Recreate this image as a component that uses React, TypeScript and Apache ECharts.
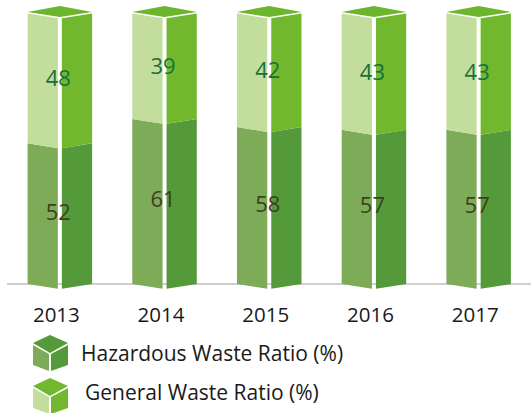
import React, { useEffect, useRef } from 'react';
import * as echarts from 'echarts';

const years = ['2013', '2014', '2015', '2016', '2017'];
const hazardous = [52, 61, 58, 57, 57];
const general = [48, 39, 42, 43, 43];
const seriesNames = ['Hazardous Waste Ratio (%)', 'General Waste Ratio (%)'];

const HAZ_LEFT = '#7eab57';
const HAZ_RIGHT = '#549a3b';
const GEN_LEFT = '#c3de9c';
const GEN_RIGHT = '#72b82e';
const CAP = '#6db52d';
const HAZ_LABEL = '#3f3f22';
const GEN_LABEL = '#17703e';
const FONT = '"Open Sans", "Noto Sans", sans-serif';

function makeRender(leftColor: string, rightColor: string, labelColor: string, withCap: boolean, labelShift: number) {
  return (params: any, api: any) => {
    const idx = api.value(0);
    const start = api.value(1);
    const end = api.value(2);
    const pTop = api.coord([idx, end]);
    const pBot = api.coord([idx, start]);
    const band = api.size([1, 0])[0];
    const h = band * 0.308;
    const g = 2;
    const s = h * 0.15;
    const cx = pTop[0];
    const yT = pTop[1];
    const yB = pBot[1];
    const children: any[] = [
      {
        type: 'polygon',
        shape: { points: [[cx - h, yT], [cx - g, yT + s], [cx - g, yB + s], [cx - h, yB]] },
        style: { fill: leftColor },
      },
      {
        type: 'polygon',
        shape: { points: [[cx + g, yT + s], [cx + h, yT], [cx + h, yB], [cx + g, yB + s]] },
        style: { fill: rightColor },
      },
    ];
    if (withCap) {
      children.push({
        type: 'polygon',
        shape: { points: [[cx - h, yT - 1.5], [cx, yT - 7.5], [cx + h, yT - 1.5], [cx, yT + 3.5]] },
        style: { fill: CAP },
      });
    }
    children.push({
      type: 'text',
      x: cx - 1.5,
      y: (yT + yB) / 2 + 1 + labelShift,
      style: {
        text: String(end - start),
        fill: labelColor,
        fontSize: 22,
        fontFamily: FONT,
        align: 'center',
        verticalAlign: 'middle',
      },
    });
    return { type: 'group', children };
  };
}

function cube(x: number, y: number, top: string, left: string, right: string) {
  return {
    type: 'group',
    x,
    y,
    children: [
      { type: 'polygon', shape: { points: [[0, 8], [17, 0], [35, 8], [17, 18]] }, style: { fill: top } },
      { type: 'polygon', shape: { points: [[0, 10], [16, 19], [16, 36], [0, 30]] }, style: { fill: left } },
      { type: 'polygon', shape: { points: [[18, 19], [35, 10], [35, 30], [18, 36]] }, style: { fill: right } },
    ],
  };
}

export default function App() {
  const ref = useRef<HTMLDivElement>(null);
  useEffect(() => {
    if (!ref.current) return;
    const chart = echarts.init(ref.current, undefined, { renderer: 'svg' });
    const hazData = hazardous.map((v, i) => [i, 0, v]);
    const genData = general.map((v, i) => [i, hazardous[i], hazardous[i] + v]);
    chart.setOption({
      animation: false,
      grid: { left: 7.5, width: 535, top: 13.5, bottom: 129 },
      xAxis: {
        type: 'category',
        data: years,
        axisLine: { show: true, lineStyle: { color: '#bfbfbf', width: 1.5 } },
        axisTick: { show: false },
        axisLabel: { color: '#1a1a1a', fontSize: 20.5, fontFamily: FONT, margin: 19, padding: [0, 7, 0, 0] },
      },
      yAxis: { type: 'value', min: 0, max: 100, show: false },
      series: [
        {
          name: seriesNames[0],
          type: 'custom',
          renderItem: makeRender(HAZ_LEFT, HAZ_RIGHT, HAZ_LABEL, false, -4),
          encode: { x: 0, y: [1, 2] },
          data: hazData,
        },
        {
          name: seriesNames[1],
          type: 'custom',
          renderItem: makeRender(GEN_LEFT, GEN_RIGHT, GEN_LABEL, true, -2),
          encode: { x: 0, y: [1, 2] },
          data: genData,
        },
      ],
      graphic: [
        cube(33, 335, HAZ_RIGHT, HAZ_LEFT, HAZ_RIGHT),
        {
          type: 'text',
          x: 81,
          y: 353,
          style: { text: seriesNames[0], fill: '#1a1a1a', fontSize: 21, fontFamily: FONT, verticalAlign: 'middle' },
        },
        cube(33, 378, GEN_RIGHT, GEN_LEFT, GEN_RIGHT),
        {
          type: 'text',
          x: 85,
          y: 392,
          style: { text: seriesNames[1], fill: '#1a1a1a', fontSize: 21, fontFamily: FONT, verticalAlign: 'middle' },
        },
      ],
    });
    return () => chart.dispose();
  }, []);
  return (
    <div
      ref={ref}
      style={{ position: 'absolute', left: 0, top: 0, width: 531, height: 413 }}
    />
  );
}
